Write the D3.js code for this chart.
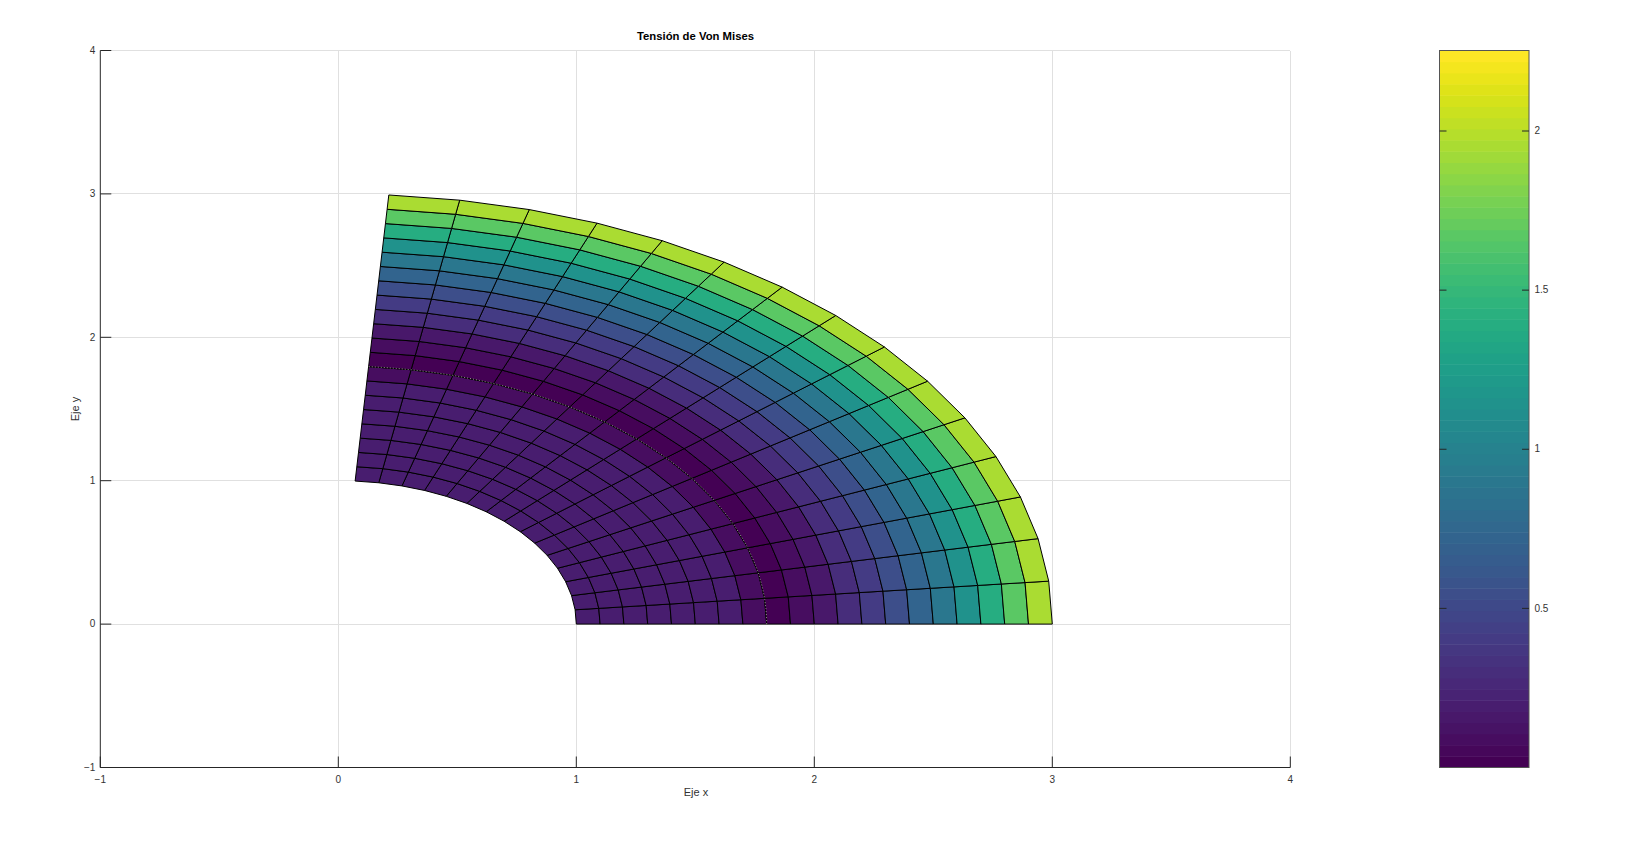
<!DOCTYPE html>
<html>
<head>
<meta charset="utf-8">
<style>
html,body{margin:0;padding:0;background:#fff;}
svg{display:block;opacity:0.999;}
text{font-family:"Liberation Sans",Arial,sans-serif;}
</style>
<script src="https://cdn.jsdelivr.net/npm/d3@7"></script>
</head>
<body>
<svg id="chart" width="1647" height="849"></svg>
<script>
// Mesh definition
const radii  = [1,1.1,1.2,1.3,1.4,1.5,1.6,1.7,1.8,1.9,2,2.1,2.2,2.3,2.4,2.5,2.6,2.7,2.8,2.9,3];
const angles = [0,0.1,0.2,0.3,0.4,0.5,0.6,0.7,0.8,0.9,1,1.1,1.2,1.3,1.4,1.5];
const ringStress = [0.21,0.21,0.21,0.205,0.20,0.195,0.185,0.09,0.01,0.08,0.17,0.29,0.39,0.56,0.72,0.90,1.16,1.40,1.66,1.96];
// Dotted curve radius
const curveRadius = 1.8;
// Axis ticks
const xTicks = [-1,0,1,2,3,4];
const yTicks = [-1,0,1,2,3,4];
const barTicks = [0.5,1,1.5,2];
const barDomain = [0,2.253];
const levels = d3.range(64);

const svg = d3.select("#chart");
const x = d3.scaleLinear().domain([-1,4]).range([100.3,1290.3]);
const y = d3.scaleLinear().domain([-1,4]).range([767.5,50.5]);
const barY = d3.scaleLinear().domain(barDomain).range([767.5,50.5]);
const levelColor = i => d3.interpolateViridis(i/63);
const stressColor = v => levelColor(Math.min(63,Math.floor((v-barDomain[0])/(barDomain[1]-barDomain[0])*64)));

// grid
const grid = svg.append("g");
grid.selectAll("line.gx").data(xTicks.slice(1)).join("line").attr("class","gx")
  .attr("x1",d=>x(d)).attr("x2",d=>x(d)).attr("y1",y(-1)).attr("y2",y(4))
  .attr("stroke","#e0e0e0").attr("stroke-width",1).attr("shape-rendering","crispEdges");
grid.selectAll("line.gy").data(yTicks.slice(1)).join("line").attr("class","gy")
  .attr("x1",x(-1)).attr("x2",x(4)).attr("y1",d=>y(d)).attr("y2",d=>y(d))
  .attr("stroke","#e0e0e0").attr("stroke-width",1).attr("shape-rendering","crispEdges");

// mesh
const polar = (r,a) => [x(r*Math.cos(a)), y(r*Math.sin(a))];
const cells = [];
ringStress.forEach((v,i)=>{
  d3.range(angles.length-1).forEach(j=>{
    cells.push({v,pts:[polar(radii[i],angles[j]),polar(radii[i+1],angles[j]),polar(radii[i+1],angles[j+1]),polar(radii[i],angles[j+1])]});
  });
});
const line = d3.line();
svg.append("g").selectAll("path").data(cells).join("path")
  .attr("d",d=>line(d.pts)+"Z")
  .attr("fill",d=>stressColor(d.v))
  .attr("stroke","#000").attr("stroke-width",1).attr("stroke-linejoin","miter");

// dotted curve
svg.append("path")
  .attr("d",line(d3.range(0,1.5001,0.02).map(a=>polar(curveRadius,a))))
  .attr("fill","none").attr("stroke","#b4bca8").attr("stroke-width",0.8).attr("stroke-dasharray","1 2");

// axes
const axX = svg.append("g").attr("transform",`translate(0,${y(-1)})`)
  .call(d3.axisBottom(x).tickValues(xTicks).tickFormat(d3.format("d")).tickSizeInner(-11).tickSizeOuter(0).tickPadding(6).offset(0));
const axY = svg.append("g").attr("transform",`translate(${x(-1)},0)`)
  .call(d3.axisLeft(y).tickValues(yTicks).tickFormat(d3.format("d")).tickSizeInner(-11).tickSizeOuter(0).tickPadding(5).offset(0));
[axX,axY].forEach(a=>{
  a.selectAll("path,line").attr("stroke","#262626").attr("stroke-width",1);
  a.selectAll("text").attr("fill","#333").attr("font-size",10).attr("font-family","Liberation Sans");
});
axX.selectAll("text").attr("y",8).attr("dy","0.71em");

// labels
svg.append("text").attr("x",695.5).attr("y",40).attr("text-anchor","middle")
  .attr("font-size",11.3).attr("font-weight","bold").attr("fill","#000").text("Tensión de Von Mises");
svg.append("text").attr("x",696).attr("y",796).attr("text-anchor","middle")
  .attr("font-size",11).attr("fill","#333").text("Eje x");
svg.append("text").attr("transform","translate(79,409) rotate(-90)").attr("text-anchor","middle")
  .attr("font-size",11).attr("fill","#333").text("Eje y");

// colour bar
const barLeft = 1439.5, barRight = 1529;
const bar = svg.append("g");
const levelEdge = i => barDomain[0]+(barDomain[1]-barDomain[0])*i/64;
bar.selectAll("rect").data(levels).join("rect")
  .attr("x",barLeft).attr("width",barRight-barLeft)
  .attr("y",d=>barY(levelEdge(d+1))).attr("height",d=>barY(levelEdge(d))-barY(levelEdge(d+1))+0.5)
  .attr("fill",levelColor);
bar.append("rect").attr("x",barLeft).attr("y",barY(barDomain[1])).attr("width",barRight-barLeft)
  .attr("height",barY(barDomain[0])-barY(barDomain[1])).attr("fill","none").attr("stroke","#555").attr("stroke-width",1);
const barAxis = bar.append("g").attr("transform",`translate(${barRight},0)`)
  .call(d3.axisRight(barY).tickValues(barTicks).tickFormat(d3.format("")).tickSizeInner(-7).tickSizeOuter(0).tickPadding(5.5).offset(0));
barAxis.select("path").remove();
barAxis.selectAll("line").attr("stroke","#262626");
barAxis.selectAll("text").attr("fill","#333").attr("font-size",10).attr("font-family","Liberation Sans");
bar.selectAll("line.tl").data(barTicks).join("line").attr("class","tl")
  .attr("x1",barLeft).attr("x2",barLeft+7).attr("y1",d=>barY(d)).attr("y2",d=>barY(d)).attr("stroke","#262626");
</script>
</body>
</html>
